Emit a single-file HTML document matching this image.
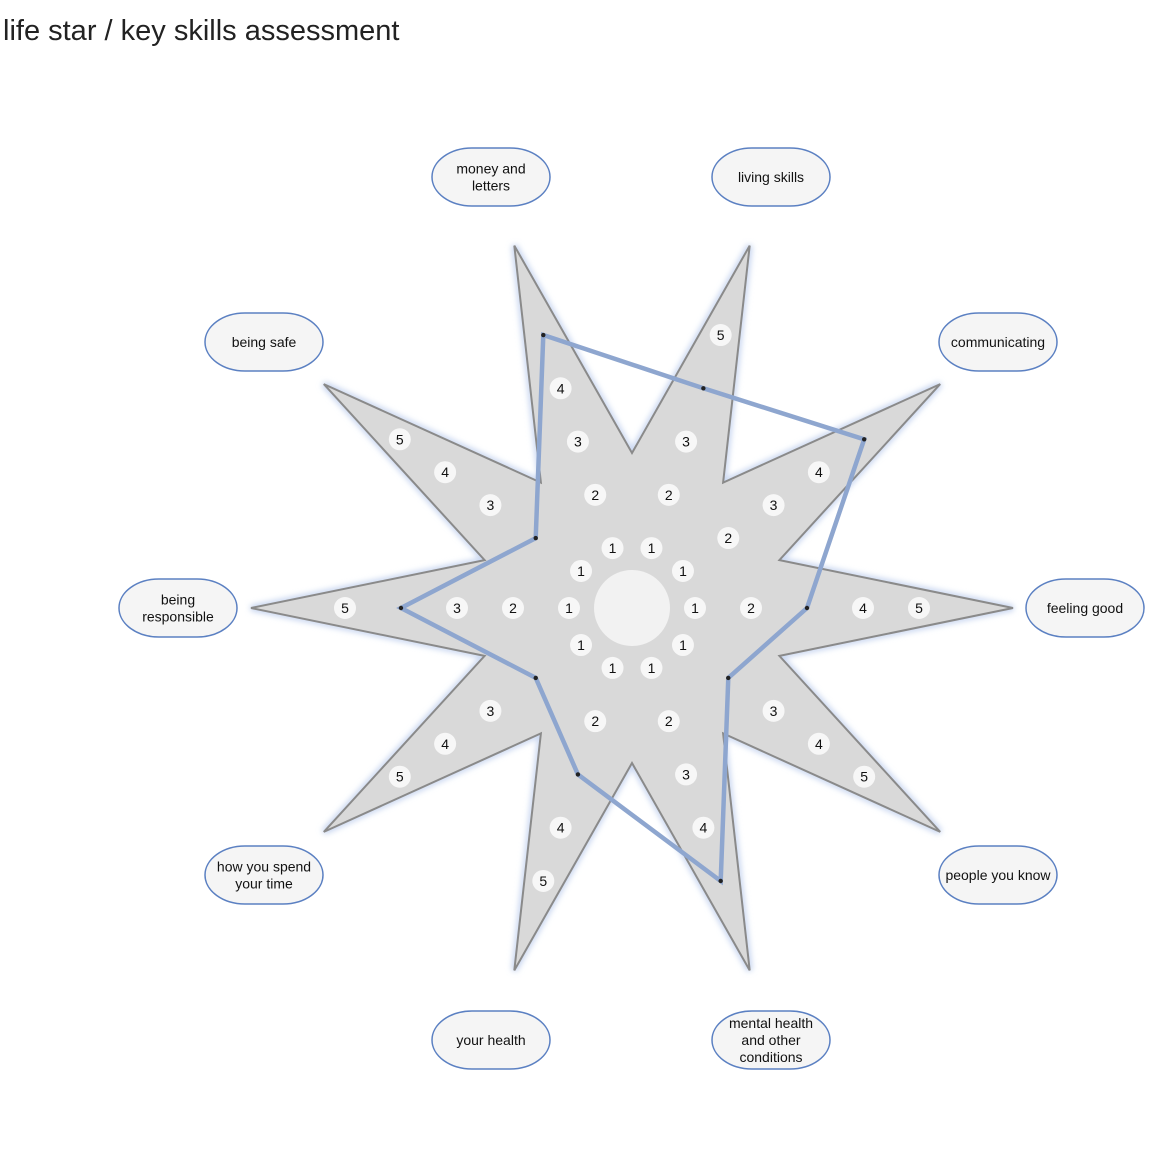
<!DOCTYPE html>
<html><head><meta charset="utf-8"><style>
body{margin:0;background:#fff;width:1155px;height:1155px;overflow:hidden;font-family:"Liberation Sans",sans-serif}
.t{position:absolute;left:3px;top:15px;font-size:29px;color:#222}
</style></head><body>
<div class="t">life star / key skills assessment</div>
<svg id="s" width="1155" height="1155" style="position:absolute;left:0;top:0">
<defs><filter id="g" x="-10%" y="-10%" width="120%" height="120%"><feGaussianBlur stdDeviation="3"/></filter></defs>
</svg>
<script>
var s=document.getElementById('s'),cx=632,cy=608,R=381,r=155,NS='http://www.w3.org/2000/svg';
function el(n,a,t){var e=document.createElementNS(NS,n);for(var k in a)e.setAttribute(k,a[k]);if(t!==undefined)e.textContent=t;s.appendChild(e);return e;}
function p(ang,d){var a=ang*Math.PI/180;return [cx+d*Math.cos(a),cy-d*Math.sin(a)];}
var pts=[];for(var i=0;i<20;i++){var q=p(i*18,i%2?r:R);pts.push(q[0].toFixed(1)+','+q[1].toFixed(1));}
el('polygon',{points:pts.join(' '),fill:'none',stroke:'#c8d6f0','stroke-width':6,filter:'url(#g)'});
el('polygon',{points:pts.join(' '),fill:'#d9d9d9',stroke:'#8a8a8a','stroke-width':2});
el('circle',{cx:cx,cy:cy,r:38,fill:'#f2f2f2'});
var vals={0:3,36:5,72:4,108:5,144:2,180:4,216:2,252:3,288:5,324:2};
var ds=[0,63,119,175,231,287];
for(var a in vals){for(var v=1;v<=5;v++){if(v==vals[a])continue;var q=p(+a,ds[v]);
el('circle',{cx:q[0],cy:q[1],r:11,fill:'#f7f7f7'});
el('text',{x:q[0],y:q[1]+5,'text-anchor':'middle','font-size':14,fill:'#111','font-family':'Liberation Sans,sans-serif'},v);}}
var order=[108,72,36,0,324,288,252,216,180,144],pl=[];
order.forEach(function(a){var q=p(a,ds[vals[a]]);pl.push(q[0].toFixed(1)+','+q[1].toFixed(1));});
el('polygon',{points:pl.join(' '),fill:'none',stroke:'#8ea6cf','stroke-width':4.5,'stroke-linejoin':'miter'});
order.forEach(function(a){var q=p(a,ds[vals[a]]);el('circle',{cx:q[0],cy:q[1],r:2.2,fill:'#222'});});
var labs=[[491,177,['money and','letters']],[771,177,['living skills']],[998,342,['communicating']],[1085,608,['feeling good']],[998,875,['people you know']],[771,1040,['mental health','and other','conditions']],[491,1040,['your health']],[264,875,['how you spend','your time']],[178,608,['being','responsible']],[264,342,['being safe']]];
labs.forEach(function(l){el('rect',{x:l[0]-59,y:l[1]-29,width:118,height:58,rx:40,ry:29,fill:'#f5f5f5',stroke:'#5b80c2','stroke-width':1.5});
var n=l[2].length,lh=17,y0=l[1]-(n-1)*lh/2+5;l[2].forEach(function(t,i){el('text',{x:l[0],y:y0+i*lh,'text-anchor':'middle','font-size':14,fill:'#111','font-family':'Liberation Sans,sans-serif'},t);});});
</script>
</body></html>
